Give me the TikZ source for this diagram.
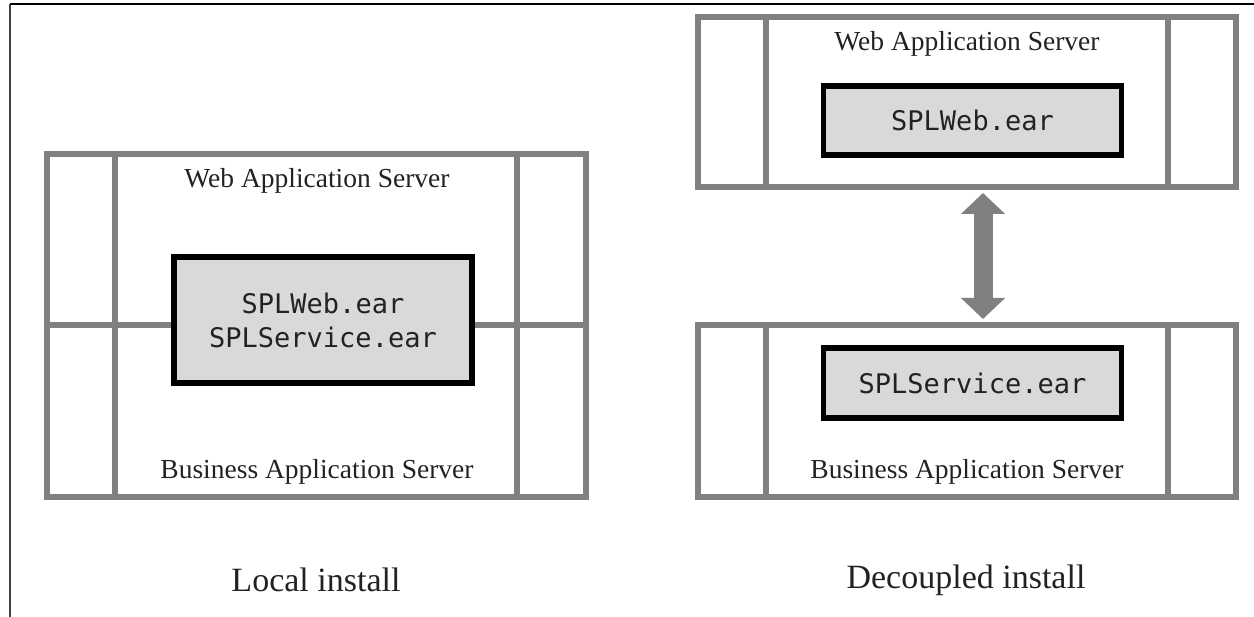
\documentclass[tikz,border=0pt]{standalone}
\usepackage{fontspec}
\setmainfont{Liberation Serif}
\setmonofont{DejaVu Sans Mono}
\usetikzlibrary{arrows.meta}
\definecolor{boxgray}{HTML}{808080}
\definecolor{earfill}{HTML}{D9D9D9}
\definecolor{framegray}{HTML}{404040}
\definecolor{txt}{HTML}{222222}
\begin{document}
\begin{tikzpicture}[x=1pt,y=-1pt,
  server/.style={draw=boxgray, line width=6pt, rectangle, inner sep=0pt},
  divider/.style={draw=boxgray, line width=6pt},
  ear/.style={draw=black, line width=5.5pt, fill=earfill, inner sep=0pt,
    font=\fontsize{27}{34}\selectfont\ttfamily, text=txt, align=center},
  lbl/.style={font=\fontsize{27.5}{30}\selectfont, text=txt, inner sep=0pt},
  caption/.style={font=\fontsize{34}{38}\selectfont, text=txt, inner sep=0pt},
  frame/.style={line width=1.8pt}]
\useasboundingbox (0,0) rectangle (1254,617);
% page frame
\coordinate (f0) at (10,4);
\coordinate (f1) at (1254,4);
\coordinate (f2) at (10,617);
\draw[frame, black] (f0) -- (f1);
\draw[frame, framegray] (f0) -- (f2);
% divider x positions
\coordinate (dl1) at (115,0);
\coordinate (dl2) at (517,0);
\coordinate (dr1) at (766,0);
\coordinate (dr2) at (1168,0);
\coordinate (ax) at (983,0);
% ---------- Local install ----------
\node[server, minimum width=539pt, minimum height=343pt] (L) at (316.5,325.5) {};
\draw[divider] (L.north -| dl1) -- (L.south -| dl1);
\draw[divider] (L.north -| dl2) -- (L.south -| dl2);
\draw[divider] (L.west) -- (L.east);
\node[ear, minimum width=298pt, minimum height=126pt] (Lear) at (323,320)
  {SPLWeb.ear\\SPLService.ear};
\node[lbl] (Lweb) at (317,181) {Web Application Server};
\node[lbl] (Lbus) at (317,472) {Business Application Server};
\node[caption] (Lcap) at (316,580) {Local install};
% ---------- Decoupled install ----------
\node[server, minimum width=538pt, minimum height=170pt] (T) at (967,102) {};
\draw[divider] (T.north -| dr1) -- (T.south -| dr1);
\draw[divider] (T.north -| dr2) -- (T.south -| dr2);
\node[ear, minimum width=298pt, minimum height=69pt] (Tear) at (972.5,120.5) {SPLWeb.ear};
\node[lbl] (Tweb) at (967,44) {Web Application Server};
\node[server, minimum width=538pt, minimum height=172pt] (B) at (967,411) {};
\draw[divider] (B.north -| dr1) -- (B.south -| dr1);
\draw[divider] (B.north -| dr2) -- (B.south -| dr2);
\node[ear, minimum width=298pt, minimum height=70pt] (Bear) at (972.5,383) {SPLService.ear};
\node[lbl] (Bbus) at (967,472) {Business Application Server};
\node[caption] (Rcap) at (966,580) {Decoupled install};
% arrow between servers
\coordinate (a1) at ([yshift=-3pt]T.south -| ax);
\coordinate (a2) at ([yshift=3pt]B.north -| ax);
\draw[boxgray, line width=19pt,
  {Triangle[width=43pt,length=21pt]}-{Triangle[width=43pt,length=21pt]}] (a1) -- (a2);
\end{tikzpicture}
\end{document}
